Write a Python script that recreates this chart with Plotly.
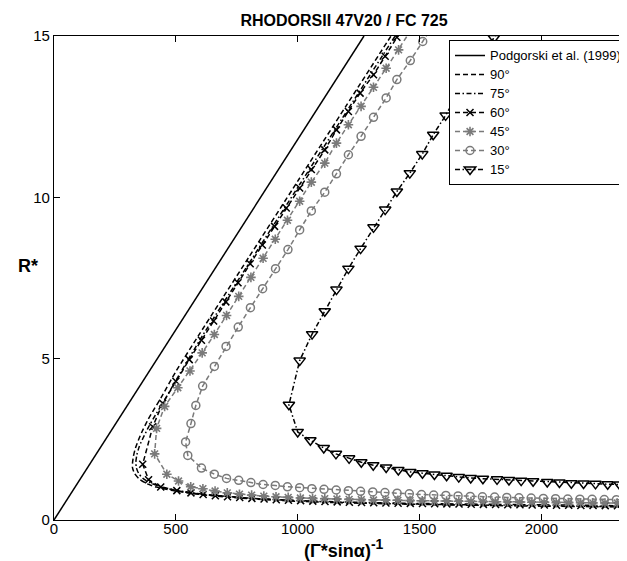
import plotly.graph_objects as go

# ---------------- data ----------------
x_podg = [0, 1272]
r_podg = [0, 15]

x90 = [2400, 2000, 1600, 1200, 1000, 800, 650, 560, 480, 420, 380, 350, 330, 322, 322, 326, 333, 345, 362, 385, 412, 440, 500, 600, 800, 1000, 1200, 1400]
r90 = [0.40, 0.43, 0.47, 0.53, 0.58, 0.66, 0.75, 0.83, 0.92, 1.02, 1.13, 1.27, 1.45, 1.62, 1.75, 1.98, 2.20, 2.45, 2.75, 3.10, 3.45, 3.80, 4.60, 5.80, 8.15, 10.50, 12.85, 15.20]

x75 = [2400, 2000, 1600, 1200, 1000, 800, 650, 560, 490, 435, 395, 365, 347, 338, 336, 340, 350, 366, 388, 416, 448, 510, 610, 810, 1010, 1210, 1410]
r75 = [0.41, 0.44, 0.48, 0.545, 0.595, 0.68, 0.77, 0.85, 0.94, 1.04, 1.15, 1.29, 1.45, 1.62, 1.80, 2.02, 2.28, 2.55, 2.88, 3.25, 3.65, 4.45, 5.72, 8.07, 10.42, 12.77, 15.12]

x60 = [2362, 2312, 2262, 2212, 2162, 2112, 2062, 2012, 1962, 1912, 1862, 1812, 1762, 1712, 1662, 1612, 1562, 1512, 1462, 1412,
       1362, 1312, 1262, 1212, 1162, 1112, 1062, 1012, 962, 912, 862, 812, 762, 712, 662, 612, 562, 504, 438, 388,
       364, 405, 446, 500, 555, 605, 655, 705, 755, 805, 855, 905, 953, 1008, 1056, 1111, 1159, 1208, 1256, 1311,
       1359, 1407, 1457]
r60 = [0.44, 0.443, 0.446, 0.449, 0.452, 0.455, 0.458, 0.462, 0.466, 0.47, 0.475, 0.48, 0.485, 0.49, 0.495, 0.50, 0.505, 0.51, 0.515, 0.52,
       0.527, 0.535, 0.543, 0.552, 0.562, 0.573, 0.585, 0.60, 0.615, 0.63, 0.65, 0.67, 0.695, 0.72, 0.75, 0.79, 0.84, 0.91, 1.02, 1.25,
       1.73, 2.89, 3.62, 4.30, 4.97, 5.57, 6.17, 6.76, 7.35, 7.94, 8.52, 9.10, 9.67, 10.29, 10.86, 11.47, 12.09, 12.66, 13.23, 13.80,
       14.37, 14.96, 15.55]

x45 = [2361, 2311, 2261, 2211, 2161, 2111, 2061, 2011, 1961, 1911, 1861, 1811, 1761, 1711, 1661, 1611, 1561, 1511, 1461, 1411,
       1361, 1311, 1261, 1211, 1161, 1111, 1061, 1011, 961, 911, 861, 811, 761, 711, 661, 611, 561, 511,
       463, 413, 421, 454, 508, 558, 608, 658, 708, 758, 808, 858, 908, 958, 1008, 1056, 1111, 1159, 1208, 1260, 1311, 1363, 1414, 1462]
r45 = [0.522, 0.525, 0.528, 0.531, 0.534, 0.537, 0.54, 0.545, 0.55, 0.555, 0.56, 0.565, 0.57, 0.575, 0.58, 0.585, 0.59, 0.595, 0.60, 0.61,
       0.615, 0.62, 0.63, 0.64, 0.65, 0.66, 0.67, 0.68, 0.70, 0.72, 0.74, 0.77, 0.80, 0.84, 0.90, 0.97, 1.03, 1.21,
       1.42, 2.05, 2.84, 3.52, 4.10, 4.62, 5.18, 5.75, 6.34, 6.93, 7.52, 8.11, 8.70, 9.29, 9.88, 10.47, 11.06, 11.68, 12.25, 12.82, 13.41, 14.0, 14.57, 15.15]

x30 = [2358, 2308, 2258, 2208, 2158, 2108, 2058, 2008, 1958, 1908, 1858, 1808, 1758, 1708, 1658, 1608, 1558, 1508, 1458, 1408,
       1358, 1308, 1258, 1208, 1158, 1108, 1058, 1008, 958, 908, 858, 808, 758, 708, 658, 605,
       549, 540, 562, 582, 610, 658, 706, 756, 806, 856, 909, 960, 1008, 1056, 1111, 1159, 1208, 1260, 1311, 1363, 1407, 1462, 1513, 1563]
r30 = [0.625, 0.63, 0.635, 0.64, 0.645, 0.65, 0.66, 0.67, 0.68, 0.69, 0.70, 0.71, 0.72, 0.73, 0.745, 0.76, 0.775, 0.79, 0.81, 0.83,
       0.85, 0.87, 0.89, 0.91, 0.93, 0.95, 0.97, 1.00, 1.03, 1.07, 1.10, 1.16, 1.23, 1.29, 1.42, 1.61,
       2.00, 2.42, 2.99, 3.55, 4.15, 4.76, 5.38, 5.98, 6.58, 7.17, 7.79, 8.38, 8.99, 9.58, 10.16, 10.73, 11.32, 11.89, 12.48, 13.08, 13.65, 14.24, 14.83, 15.42]

x15 = [1855, 1805, 1755, 1705, 1655, 1607, 1556, 1511, 1460, 1407, 1359, 1311, 1258, 1208, 1159, 1111, 1059, 1008, 964,
       1000, 1052, 1107, 1157, 1211, 1261, 1310, 1363, 1413, 1462, 1512, 1561, 1611, 1661, 1710, 1760, 1818, 1867, 1917, 1966,
       2024, 2074, 2123, 2173, 2222, 2272, 2321, 2371]
r15 = [15.53, 14.94, 14.35, 13.76, 13.18, 12.54, 11.94, 11.34, 10.75, 10.18, 9.62, 9.07, 8.41, 7.79, 7.14, 6.47, 5.76, 4.94, 3.57,
       2.73, 2.47, 2.23, 2.05, 1.91, 1.79, 1.70, 1.63, 1.55, 1.49, 1.45, 1.41, 1.37, 1.33, 1.30, 1.28, 1.26, 1.24, 1.22, 1.20,
       1.18, 1.16, 1.14, 1.13, 1.12, 1.11, 1.10, 1.09]

series_names = ["Podgorski et al. (1999)", "90°", "75°", "60°", "45°", "30°", "15°"]
x_ticks = [0, 500, 1000, 1500, 2000]
y_ticks = [0, 5, 10, 15]

# ---------------- styling ----------------
FONT = "Liberation Sans, Arial, Helvetica, sans-serif"
BLACK = "#000000"
GRAY = "#7a7a7a"
DASH = "5px,3px"
DASHDOT = "5px,2.5px,1.5px,2.5px"
LW = 1.5
LEG_PX = 13


def leg_name(s):
    return '<span style="font-size:%spx">%s</span>' % (LEG_PX, s)


fig = go.Figure()

fig.add_trace(go.Scatter(x=x_podg, y=r_podg, mode="lines", name=leg_name(series_names[0]),
                         line=dict(color=BLACK, width=LW)))
fig.add_trace(go.Scatter(x=x90, y=r90, mode="lines", name=leg_name(series_names[1]),
                         line=dict(color=BLACK, width=LW, dash=DASH, shape="spline", smoothing=0.6)))
fig.add_trace(go.Scatter(x=x75, y=r75, mode="lines", name=leg_name(series_names[2]),
                         line=dict(color=BLACK, width=LW, dash=DASHDOT, shape="spline", smoothing=0.6)))
fig.add_trace(go.Scatter(x=x60, y=r60, mode="lines+markers", name=leg_name(series_names[3]),
                         line=dict(color=BLACK, width=LW, dash=DASH),
                         marker=dict(symbol="x-thin-open", size=7, color=BLACK,
                                     line=dict(color=BLACK, width=1.5))))
fig.add_trace(go.Scatter(x=x45, y=r45, mode="lines+markers", name=leg_name(series_names[4]),
                         line=dict(color=GRAY, width=LW, dash=DASH),
                         marker=dict(symbol="asterisk-open", size=8, color=GRAY,
                                     line=dict(color=GRAY, width=1.6))))
fig.add_trace(go.Scatter(x=x30, y=r30, mode="lines+markers", name=leg_name(series_names[5]),
                         line=dict(color=GRAY, width=LW, dash=DASH),
                         marker=dict(symbol="circle-open", size=8, color=GRAY,
                                     line=dict(color=GRAY, width=1.5))))
fig.add_trace(go.Scatter(x=x15, y=r15, mode="lines+markers", name=leg_name(series_names[6]),
                         line=dict(color=BLACK, width=LW, dash=DASHDOT),
                         marker=dict(symbol="triangle-down-open", size=10, color=BLACK,
                                     line=dict(color=BLACK, width=1.5))))

W, H = 627, 561
L, R, T, B = 46, 1, 28, 49
pw, ph = W - L - R, H - T - B


def px_to_paper_x(px):
    return (px - L) / pw


def px_to_paper_y(py):
    return (H - B - py) / ph


fig.update_layout(
    width=W, height=H,
    margin=dict(l=L, r=R, t=T, b=B, autoexpand=False),
    paper_bgcolor="white", plot_bgcolor="white",
    font=dict(family=FONT, size=15, color=BLACK),
    title=dict(text="<b>RHODORSII 47V20 / FC 725</b>", x=0.5, xref="paper", xanchor="center",
               y=1 - 12 / H, yref="container", yanchor="middle",
               font=dict(family=FONT, size=16, color=BLACK)),
    showlegend=True,
    legend=dict(x=px_to_paper_x(441), y=px_to_paper_y(32), xanchor="left", yanchor="top",
                bgcolor="white", bordercolor=BLACK, borderwidth=1,
                font=dict(family=FONT, size=10.5, color=BLACK),
                tracegroupgap=0, itemwidth=30),
    xaxis=dict(range=[0, 2380], tickvals=x_ticks, ticktext=[str(v) for v in x_ticks],
               showgrid=False, zeroline=False, showline=True, linecolor=BLACK, linewidth=1.3,
               mirror="ticks", ticks="inside", ticklen=6, tickwidth=1, tickcolor=BLACK,
               ticklabelstandoff=-5,
               tickfont=dict(family=FONT, size=15, color=BLACK)),
    yaxis=dict(range=[0, 15], tickvals=y_ticks, ticktext=[str(v) for v in y_ticks],
               showgrid=False, zeroline=False, showline=True, linecolor=BLACK, linewidth=1.3,
               mirror="ticks", ticks="inside", ticklen=6, tickwidth=1, tickcolor=BLACK,
               tickfont=dict(family=FONT, size=15, color=BLACK)),
    annotations=[
        dict(text="<b>R*</b>", xref="paper", yref="paper", x=px_to_paper_x(20), y=px_to_paper_y(258),
             xanchor="center", yanchor="middle", showarrow=False,
             font=dict(family=FONT, size=18, color=BLACK)),
        dict(text='<b>(Γ*sinα)<sup><span style="font-size:14px">-1</span></sup></b>',
             xref="paper", yref="paper", x=px_to_paper_x(336),
             y=px_to_paper_y(540), xanchor="center", yanchor="middle", showarrow=False,
             font=dict(family=FONT, size=18, color=BLACK)),
    ],
)

fig.write_html("out.html")
